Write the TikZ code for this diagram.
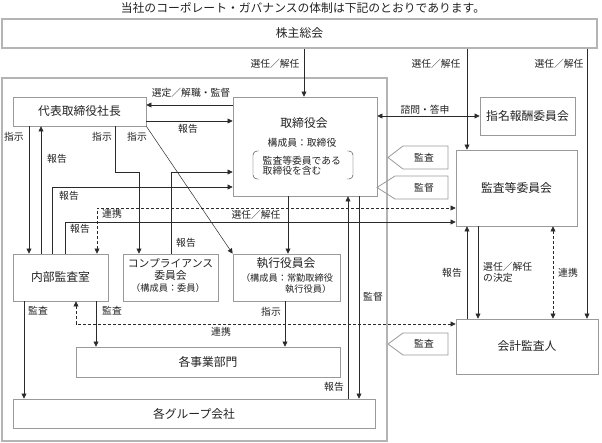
\documentclass[tikz,border=0pt]{standalone}
\usepackage{fontspec}
\setmainfont{Noto Sans CJK JP}
\usetikzlibrary{arrows.meta}
\definecolor{boxgray}{HTML}{9A9A9A}
\definecolor{outergray}{HTML}{B4B4B4}
\definecolor{linecol}{HTML}{2A2A2A}
\definecolor{txt}{HTML}{222222}
\begin{document}
\begin{tikzpicture}[x=1pt,y=-1pt,
  box/.style={draw=boxgray, line width=0.8pt, inner sep=0pt, text=txt, font=\fontsize{11.8}{13}\selectfont},
  ttl/.style={font=\fontsize{11.8}{13}\selectfont, inner sep=0pt, text=txt},
  sub/.style={font=\fontsize{9.8}{10}\selectfont, inner sep=0pt, text=txt},
  lab/.style={font=\fontsize{9.8}{10}\selectfont, inner sep=0pt, text=txt},
  small/.style={font=\fontsize{9.2}{10}\selectfont, inner sep=0pt, text=txt},
  arr/.style={draw=linecol, line width=0.5pt, -{Triangle[length=5pt,width=5pt]}},
  darr/.style={draw=linecol, line width=0.5pt, {Triangle[length=5pt,width=5pt]}-{Triangle[length=5pt,width=5pt]}},
  dsh/.style={dash pattern=on 3pt off 2pt},
  tagbox/.style={draw=boxgray, line width=0.8pt},
  paren/.style={draw=linecol, line width=0.4pt, rounded corners=4pt}]
\useasboundingbox (0,0) rectangle (602,443);

% title
\node[font=\fontsize{11.8}{12}\selectfont, inner sep=0pt, text=txt] (title) at (303,8) {当社のコーポレート・ガバナンスの体制は下記のとおりであります。};

% frames and boxes
\node[draw=outergray, line width=1.5pt, minimum width=385pt, minimum height=363pt, inner sep=0pt] (company) at (194.5,259.5) {};
\node[box, draw=outergray, line width=1.3pt, minimum width=595pt, minimum height=29pt] (gm) at (299.5,33.5) {株主総会};
\node[box, minimum width=133pt, minimum height=29pt] (pres) at (79.5,111.5) {代表取締役社長};
\node[box, minimum width=144pt, minimum height=99pt] (board) at (305,146.5) {};
\node[box, minimum width=95pt, minimum height=38pt] (nom) at (527.5,116) {指名報酬委員会};
\node[box, minimum width=121pt, minimum height=76pt] (acb) at (516.5,188) {監査等委員会};
\node[box, minimum width=95pt, minimum height=47pt] (ia) at (60.5,277.5) {内部監査室};
\node[box, minimum width=95pt, minimum height=47pt] (comp) at (170.5,277.5) {};
\node[box, minimum width=107pt, minimum height=47pt] (exec) at (286.5,277.5) {};
\node[box, minimum width=264pt, minimum height=30pt] (biz) at (208,362) {各事業部門};
\node[box, minimum width=362pt, minimum height=29pt] (grp) at (194,413.5) {各グループ会社};
\node[box, minimum width=142pt, minimum height=55pt] (aud) at (527,346.5) {会計監査人};

% board texts
\node[ttl] (boardt) at (304,123) {取締役会};
\node[sub] (boardm) at (302,143) {構成員：取締役};
\node[sub, anchor=west] (boardp1) at (262.5,160.5) {監査等委員である};
\node[sub, anchor=west] (boardp2) at (262.5,170.5) {取締役を含む};
\draw[paren] (259,151) -- (253,151) -- (253,179) -- (259,179);
\draw[paren] (347,151) -- (353,151) -- (353,179) -- (347,179);

% compliance texts
\node[font=\fontsize{10.8}{12}\selectfont, inner sep=0pt, text=txt] (compa) at (170.5,263) {コンプライアンス};
\node[font=\fontsize{10.8}{12}\selectfont, inner sep=0pt, text=txt] (compb) at (170.5,275) {委員会};
\node[small] (compc) at (168,288) {（構成員：委員）};

% executive texts
\node[ttl] (exect) at (286,263) {執行役員会};
\node[small] (execm) at (287,278.5) {（構成員：常勤取締役};
\node[small, anchor=west] (execn) at (285,289.5) {執行役員）};

% tags
\draw[tagbox] (388,157.5) -- (403,146) -- (448,146) -- (448,169) -- (403,169) -- cycle;
\node[lab] (tag1) at (424,157.5) {監査};
\draw[tagbox] (377,187.5) -- (395,176) -- (448,176) -- (448,199) -- (395,199) -- cycle;
\node[lab] (tag2) at (424,187.5) {監督};
\draw[tagbox] (388,344) -- (403,333) -- (448,333) -- (448,355) -- (403,355) -- cycle;
\node[lab] (tag3) at (424,344) {監査};

% connectors
\draw[arr] (304,0 |- gm.south) -- (304,0 |- board.north);
\draw[arr] (467,0 |- gm.south) -- (467,0 |- acb.north);
\draw[arr] (587,0 |- gm.south) -- (587,0 |- aud.north);
\draw[arr] (board.west |- 0,105) -- (pres.east |- 0,105);
\draw[arr] (pres.east |- 0,121) -- (board.west |- 0,121);
\draw[arr] (29,0 |- pres.south) -- (29,0 |- ia.north);
\draw[arr] (41,0 |- ia.north) -- (41,0 |- pres.south);
\draw[arr] (115,0 |- pres.south) -- (115,172) -- (139,172) -- (139,0 |- comp.north);
\draw[arr] (pres.south east) -- (exec.north west);
\draw[arr] (171,0 |- comp.north) -- (171,172) -- (board.west |- 0,172);
\draw[arr] (52,0 |- ia.north) -- (52,187) -- (board.west |- 0,187);
\draw[darr, dsh] (97,0 |- ia.north) -- (97,208) -- (acb.west |- 0,208);
\draw[arr] (65,0 |- ia.north) -- (65,222) -- (acb.west |- 0,222);
\draw[arr] (288,0 |- board.south) -- (288,0 |- exec.north);
\draw[arr] (348,0 |- grp.north) -- (348,0 |- board.south);
\draw[arr] (359,0 |- board.south) -- (359,0 |- grp.north);
\draw[arr] (24,0 |- ia.south) -- (24,0 |- grp.north);
\draw[arr] (96,0 |- ia.south) -- (96,0 |- biz.north);
\draw[darr, dsh] (76,0 |- ia.south) -- (76,324) -- (aud.west |- 0,324);
\draw[arr] (285,0 |- exec.south) -- (285,0 |- biz.north);
\draw[arr] (467,0 |- aud.north) -- (467,0 |- acb.south);
\draw[arr] (478,0 |- acb.south) -- (478,0 |- aud.north);
\draw[darr, dsh] (553,0 |- acb.south) -- (553,0 |- aud.north);
\draw[darr] (board.east |- 0,116) -- (nom.west |- 0,116);

% labels
\node[lab] (l1) at (275,64) {選任／解任};
\node[lab] (l2) at (436,64) {選任／解任};
\node[lab] (l3) at (559,64) {選任／解任};
\node[lab] (l4) at (191,93) {選定／解職・監督};
\node[lab] (l5) at (188,129) {報告};
\node[lab] (l6) at (14,137) {指示};
\node[lab] (l7) at (102,137) {指示};
\node[lab] (l8) at (137,137) {指示};
\node[lab] (l9) at (57,159) {報告};
\node[lab] (l10) at (69,196) {報告};
\node[lab] (l11) at (112,214) {連携};
\node[lab] (l12) at (80,229) {報告};
\node[lab] (l13) at (256,215) {選任／解任};
\node[lab] (l14) at (186,243) {報告};
\node[lab] (l15) at (38,311) {監査};
\node[lab] (l16) at (112,311) {監査};
\node[lab] (l17) at (271,312) {指示};
\node[lab] (l18) at (221,332) {連携};
\node[lab] (l19) at (373,297) {監督};
\node[lab] (l20) at (334,387) {報告};
\node[lab] (l21) at (425,110) {諮問・答申};
\node[lab] (l22) at (452,273) {報告};
\node[lab, anchor=west] (l23) at (483,267) {選任／解任};
\node[lab, anchor=west] (l24) at (483,278) {の決定};
\node[lab] (l25) at (568,273) {連携};
\end{tikzpicture}
\end{document}
